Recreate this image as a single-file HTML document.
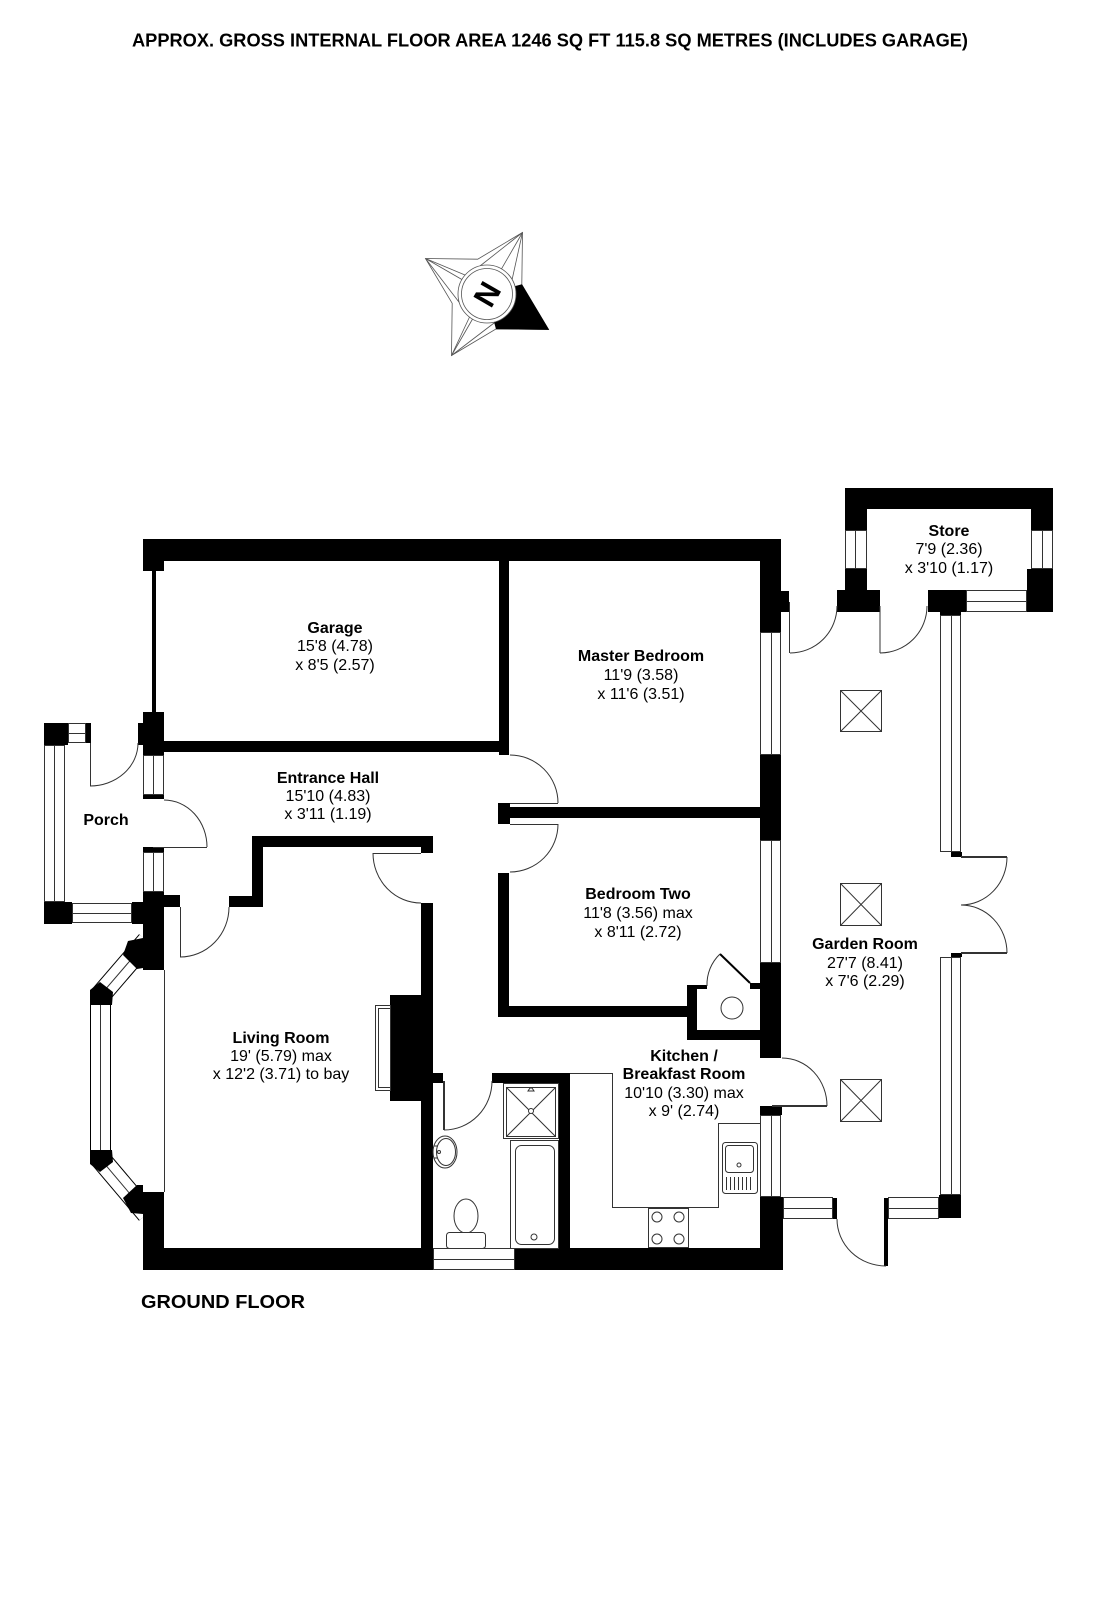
<!DOCTYPE html>
<html>
<head>
<meta charset="utf-8">
<style>
html,body{margin:0;padding:0;background:#fff;}
body{width:1097px;height:1600px;overflow:hidden;position:relative;}
svg{position:absolute;left:0;top:0;}
text{font-family:"Liberation Sans",Arial,sans-serif;fill:#000;}
.t{font-size:16px;text-anchor:middle;}
.b{font-weight:bold;}
</style>
</head>
<body>
<svg width="1097" height="1600" viewBox="0 0 1097 1600" xmlns="http://www.w3.org/2000/svg">
<rect width="1097" height="1600" fill="#fff"/>

<!-- Title -->
<text x="132" y="46.5" font-size="18" font-weight="bold" textLength="836" lengthAdjust="spacingAndGlyphs">APPROX. GROSS INTERNAL FLOOR AREA 1246 SQ FT 115.8 SQ METRES (INCLUDES GARAGE)</text>

<!-- Compass -->
<g stroke="#555" stroke-width="0.8" fill="#fff">
  <polygon points="548.5,329.5 496.3,328.8 451.5,355.5 452.2,303.3 425.5,258.5 477.7,259.2 522.5,232.5 521.8,284.7"/>
  <line x1="451.5" y1="355.5" x2="487" y2="294"/>
  <line x1="425.5" y1="258.5" x2="487" y2="294"/>
  <line x1="522.5" y1="232.5" x2="487" y2="294"/>
  <line x1="451.5" y1="355.5" x2="470" y2="316"/>
  <line x1="451.5" y1="355.5" x2="498" y2="320"/>
  <line x1="425.5" y1="258.5" x2="465" y2="275"/>
  <line x1="425.5" y1="258.5" x2="462" y2="306"/>
  <line x1="522.5" y1="232.5" x2="480" y2="266"/>
  <line x1="522.5" y1="232.5" x2="512" y2="280"/>
  <polygon points="548.5,329.5 496.3,328.8 487,294 521.8,284.7" fill="#000" stroke="#000"/>
  <circle cx="487" cy="294" r="29"/>
  <circle cx="487" cy="294" r="25.5" fill="none"/>
</g>
<g transform="translate(487,294) rotate(-60)">
  <text x="0" y="11" font-size="31" font-weight="bold" text-anchor="middle">N</text>
</g>

<!-- Bay window band -->
<g fill="none">
  <path d="M 147 941 L 100.5 995 L 100.5 1159 L 147 1214" stroke="#000" stroke-width="21" stroke-linejoin="miter"/>
  <path d="M 147 941 L 100.5 995 L 100.5 1159 L 147 1214" stroke="#fff" stroke-width="19" stroke-linejoin="miter"/>
  <path d="M 147 941 L 100.5 995 L 100.5 1159 L 147 1214" stroke="#333" stroke-width="1"/>
</g>
<g fill="#000">
  <polygon points="128,941 143,938 143,968 137,969 123,955"/>
  <polygon points="90,990 100,982 113,992 112,1005 90,1005"/>
  <polygon points="90,1150 112,1150 113,1162 100,1172 90,1164"/>
  <polygon points="123,1198 137,1185 143,1185 143,1214 131,1213"/>
</g>

<!-- Windows (white with outline and middle line) -->
<g fill="#fff" stroke="#333" stroke-width="1">
  <rect x="143.5" y="755.5" width="20" height="39"/>
  <rect x="143.5" y="852.5" width="20" height="39"/>
  <rect x="68.5" y="723.5" width="17" height="19"/>
  <rect x="44.5" y="745.5" width="20" height="156"/>
  <rect x="72.5" y="903.5" width="59" height="19"/>
  <rect x="760.5" y="632.5" width="20" height="122"/>
  <rect x="760.5" y="840.5" width="20" height="122"/>
  <rect x="760.5" y="1115.5" width="20" height="81"/>
  <rect x="845.5" y="530.5" width="21" height="38"/>
  <rect x="1031.5" y="530.5" width="21" height="38"/>
  <rect x="966.5" y="590.5" width="60" height="21"/>
  <rect x="940.5" y="615.5" width="20" height="236"/>
  <rect x="940.5" y="957.5" width="20" height="237"/>
  <rect x="783.5" y="1197.5" width="49" height="21"/>
  <rect x="888.5" y="1197.5" width="50" height="21"/>
  <rect x="433.5" y="1248.5" width="81" height="21"/>
</g>
<g stroke="#333" stroke-width="1">
  <line x1="153.5" y1="755" x2="153.5" y2="795"/>
  <line x1="153.5" y1="852" x2="153.5" y2="892"/>
  <line x1="68" y1="733.5" x2="86" y2="733.5"/>
  <line x1="54.5" y1="745" x2="54.5" y2="902"/>
  <line x1="72" y1="913.5" x2="132" y2="913.5"/>
  <line x1="771.5" y1="632" x2="771.5" y2="755"/>
  <line x1="771.5" y1="840" x2="771.5" y2="963"/>
  <line x1="771.5" y1="1115" x2="771.5" y2="1197"/>
  <line x1="855.5" y1="530" x2="855.5" y2="569"/>
  <line x1="1042.5" y1="530" x2="1042.5" y2="569"/>
  <line x1="966" y1="601.5" x2="1027" y2="601.5"/>
  <line x1="951.5" y1="615" x2="951.5" y2="852"/>
  <line x1="951.5" y1="957" x2="951.5" y2="1195"/>
  <line x1="783" y1="1208.5" x2="833" y2="1208.5"/>
  <line x1="888" y1="1208.5" x2="939" y2="1208.5"/>
  <line x1="433" y1="1259.5" x2="515" y2="1259.5"/>
</g>

<!-- Walls -->
<g fill="#000">
  <!-- top wall -->
  <rect x="143" y="539" width="638" height="22"/>
  <rect x="143" y="561" width="21" height="10"/>
  <rect x="152" y="571" width="4" height="141"/>
  <rect x="143" y="712" width="21" height="43"/>
  <rect x="138" y="723" width="5" height="22"/>
  <!-- garage / hall -->
  <rect x="164" y="741" width="345" height="11"/>
  <rect x="499" y="561" width="10" height="194"/>
  <!-- master / bedroom two -->
  <rect x="498" y="803" width="12" height="21"/>
  <rect x="510" y="807" width="251" height="11"/>
  <rect x="498" y="873" width="11" height="144"/>
  <rect x="498" y="1006" width="199" height="11"/>
  <!-- cupboard -->
  <rect x="687" y="985" width="10" height="55"/>
  <rect x="687" y="1030" width="74" height="10"/>
  <rect x="687" y="985" width="20" height="4"/>
  <rect x="750" y="983" width="11" height="6"/>
  <!-- right wall x 760-781 -->
  <rect x="760" y="539" width="21" height="93"/>
  <rect x="781" y="591" width="8" height="21"/>
  <rect x="760" y="755" width="21" height="85"/>
  <rect x="760" y="963" width="21" height="95"/>
  <rect x="760" y="1106" width="22" height="9"/>
  <rect x="760" y="1197" width="23" height="73"/>
  <!-- bottom wall -->
  <rect x="143" y="1248" width="290" height="22"/>
  <rect x="515" y="1248" width="268" height="22"/>
  <rect x="143" y="1192" width="21" height="78"/>
  <!-- left wall of hall / living -->
  <rect x="143" y="795" width="21" height="4"/>
  <rect x="143" y="847" width="21" height="5"/>
  <rect x="143" y="892" width="21" height="78"/>
  <rect x="164" y="895" width="16" height="12"/>
  <rect x="132" y="902" width="11" height="22"/>
  <!-- porch -->
  <rect x="44" y="723" width="24" height="22"/>
  <rect x="86" y="723" width="5" height="20"/>
  <rect x="44" y="902" width="28" height="22"/>
  <!-- living room top -->
  <rect x="229" y="896" width="34" height="11"/>
  <rect x="252" y="836" width="11" height="71"/>
  <rect x="252" y="836" width="181" height="11"/>
  <rect x="421" y="847" width="12" height="6"/>
  <rect x="421" y="903" width="12" height="367"/>
  <!-- chimney -->
  <rect x="390" y="995" width="32" height="106"/>
  <!-- bathroom -->
  <rect x="433" y="1073" width="10" height="10"/>
  <rect x="492" y="1073" width="78" height="10"/>
  <rect x="559" y="1073" width="11" height="175"/>
  <!-- store -->
  <rect x="845" y="488" width="208" height="21"/>
  <rect x="845" y="509" width="22" height="21"/>
  <rect x="845" y="569" width="22" height="21"/>
  <rect x="837" y="590" width="43" height="22"/>
  <rect x="1031" y="509" width="22" height="21"/>
  <rect x="1027" y="569" width="26" height="43"/>
  <rect x="928" y="590" width="38" height="22"/>
  <rect x="940" y="612" width="21" height="3"/>
  <!-- garden room -->
  <rect x="951" y="852" width="11" height="5"/>
  <rect x="951" y="953" width="11" height="4"/>
  <rect x="939" y="1195" width="22" height="23"/>
  <rect x="833" y="1198" width="4" height="21"/>
  <rect x="884" y="1198" width="4" height="68"/>
</g>

<!-- Doors and fittings (thin lines) -->
<g fill="none" stroke="#333" stroke-width="1">
  <!-- porch front door -->
  <line x1="90.5" y1="743" x2="90.5" y2="786"/>
  <path d="M 90 786 A 48 43 0 0 0 138 743"/>
  <!-- porch to hall -->
  <line x1="153" y1="847.5" x2="207" y2="847.5"/>
  <path d="M 164 800 A 43 47 0 0 1 207 847"/>
  <!-- hall to living -->
  <line x1="180.5" y1="907" x2="180.5" y2="957"/>
  <path d="M 180 957 A 49 50 0 0 0 229 907"/>
  <!-- corridor to living -->
  <line x1="373" y1="853.5" x2="421" y2="853.5"/>
  <path d="M 373 853 A 48 50 0 0 0 421 903"/>
  <!-- master bedroom door -->
  <line x1="510" y1="803.5" x2="558" y2="803.5"/>
  <path d="M 558 803 A 48 48 0 0 0 510 755"/>
  <!-- bedroom two door -->
  <line x1="510" y1="824.5" x2="558" y2="824.5"/>
  <path d="M 558 824 A 48 48 0 0 1 510 872"/>
  <!-- bathroom door -->
  <line x1="444" y1="1081" x2="444" y2="1130" stroke-width="2"/>
  <path d="M 444 1130 A 48 49 0 0 0 492 1081"/>
  <!-- kitchen to garden -->
  <line x1="772" y1="1106" x2="827" y2="1106" stroke-width="2"/>
  <path d="M 827 1106 A 45 48 0 0 0 782 1058"/>
  <!-- master/garden door -->
  <line x1="789.5" y1="602" x2="789.5" y2="653"/>
  <path d="M 790 653 A 47 47 0 0 0 837 606"/>
  <!-- store door -->
  <line x1="880" y1="606" x2="880" y2="653"/>
  <path d="M 880 653 A 47 47 0 0 0 927 606"/>
  <!-- french doors -->
  <line x1="961" y1="857" x2="1007" y2="857" stroke-width="2"/>
  <path d="M 1007 857 A 46 48 0 0 1 961 905"/>
  <line x1="961" y1="953" x2="1007" y2="953" stroke-width="2"/>
  <path d="M 1007 953 A 46 48 0 0 0 961 905"/>
  <!-- garden bottom door -->
  <path d="M 837 1219 A 49 47 0 0 0 886 1266"/>
  <!-- cupboard door -->
  <line x1="720" y1="954" x2="750" y2="983" stroke="#000" stroke-width="2"/>
  <path d="M 720 954 A 42 42 0 0 0 707 986"/>
  <circle cx="732" cy="1008" r="11"/>
  <!-- living inner line -->
  <line x1="164.5" y1="970" x2="164.5" y2="1192"/>
  <!-- hearth -->
  <rect x="375.5" y="1005.5" width="15" height="85"/>
  <rect x="378.5" y="1008.5" width="12" height="79"/>
  <!-- skylights -->
  <rect x="840.5" y="690.5" width="41" height="41"/>
  <path d="M 840.5 690.5 L 881.5 731.5 M 881.5 690.5 L 840.5 731.5"/>
  <rect x="840.5" y="883.5" width="41" height="42"/>
  <path d="M 840.5 883.5 L 881.5 925.5 M 881.5 883.5 L 840.5 925.5"/>
  <rect x="840.5" y="1079.5" width="41" height="42"/>
  <path d="M 840.5 1079.5 L 881.5 1121.5 M 881.5 1079.5 L 840.5 1121.5"/>
  <!-- kitchen counters -->
  <path d="M 570 1073.5 L 612.5 1073.5 L 612.5 1207.5 L 718.5 1207.5 L 718.5 1123.5 L 760 1123.5"/>
  <rect x="648.5" y="1208.5" width="40" height="39"/>
  <circle cx="657" cy="1217" r="5"/>
  <circle cx="679" cy="1217" r="5"/>
  <circle cx="657" cy="1239" r="5"/>
  <circle cx="679" cy="1239" r="5"/>
  <rect x="722.5" y="1142.5" width="35" height="51" rx="3"/>
  <rect x="725.5" y="1145.5" width="28" height="27" rx="3"/>
  <circle cx="739" cy="1165" r="2"/>
  <path d="M 726.5 1177 V 1190 M 730.5 1177 V 1190 M 734.5 1177 V 1190 M 738.5 1177 V 1190 M 742.5 1177 V 1190 M 746.5 1177 V 1190 M 750.5 1177 V 1190"/>
  <!-- shower -->
  <rect x="503.5" y="1083.5" width="55" height="55"/>
  <rect x="506.5" y="1087.5" width="49" height="49"/>
  <path d="M 506.5 1087.5 L 555.5 1136.5 M 555.5 1087.5 L 506.5 1136.5"/>
  <circle cx="531" cy="1111" r="2.5" fill="#fff"/>
  <path d="M 528 1091 L 534 1091 L 532 1088 L 530 1088 Z"/>
  <!-- bath -->
  <rect x="510.5" y="1140.5" width="48" height="108"/>
  <rect x="515.5" y="1145.5" width="39" height="99" rx="6"/>
  <circle cx="534" cy="1237" r="3"/>
  <!-- basin -->
  <ellipse cx="445" cy="1152" rx="12" ry="16"/>
  <ellipse cx="446" cy="1152" rx="9.5" ry="13.5"/>
  <circle cx="439" cy="1152" r="1.5"/>
  <path d="M 434 1146 h 4 M 434 1158 h 4"/>
  <!-- WC -->
  <ellipse cx="466" cy="1216" rx="12" ry="17"/>
  <rect x="446.5" y="1232.5" width="39" height="16" rx="3" fill="#fff"/>
</g>

<!-- Room labels -->
<text class="t b" x="335" y="633">Garage</text>
<text class="t" x="335" y="651">15'8 (4.78)</text>
<text class="t" x="335" y="670">x 8'5 (2.57)</text>

<text class="t b" x="641" y="661">Master Bedroom</text>
<text class="t" x="641" y="680">11'9 (3.58)</text>
<text class="t" x="641" y="699">x 11'6 (3.51)</text>

<text class="t b" x="949" y="536">Store</text>
<text class="t" x="949" y="554">7'9 (2.36)</text>
<text class="t" x="949" y="573">x 3'10 (1.17)</text>

<text class="t b" x="328" y="783">Entrance Hall</text>
<text class="t" x="328" y="801">15'10 (4.83)</text>
<text class="t" x="328" y="819">x 3'11 (1.19)</text>

<text class="t b" x="106" y="825">Porch</text>

<text class="t b" x="638" y="899">Bedroom Two</text>
<text class="t" x="638" y="918">11'8 (3.56) max</text>
<text class="t" x="638" y="937">x 8'11 (2.72)</text>

<text class="t b" x="865" y="949">Garden Room</text>
<text class="t" x="865" y="968">27'7 (8.41)</text>
<text class="t" x="865" y="986">x 7'6 (2.29)</text>

<text class="t b" x="684" y="1061">Kitchen /</text>
<text class="t b" x="684" y="1079">Breakfast Room</text>
<text class="t" x="684" y="1098">10'10 (3.30) max</text>
<text class="t" x="684" y="1116">x 9' (2.74)</text>

<text class="t b" x="281" y="1043">Living Room</text>
<text class="t" x="281" y="1061">19' (5.79) max</text>
<text class="t" x="281" y="1079">x 12'2 (3.71) to bay</text>

<text x="141" y="1308" font-size="18" font-weight="bold" textLength="164" lengthAdjust="spacingAndGlyphs">GROUND FLOOR</text>
</svg>
</body>
</html>
